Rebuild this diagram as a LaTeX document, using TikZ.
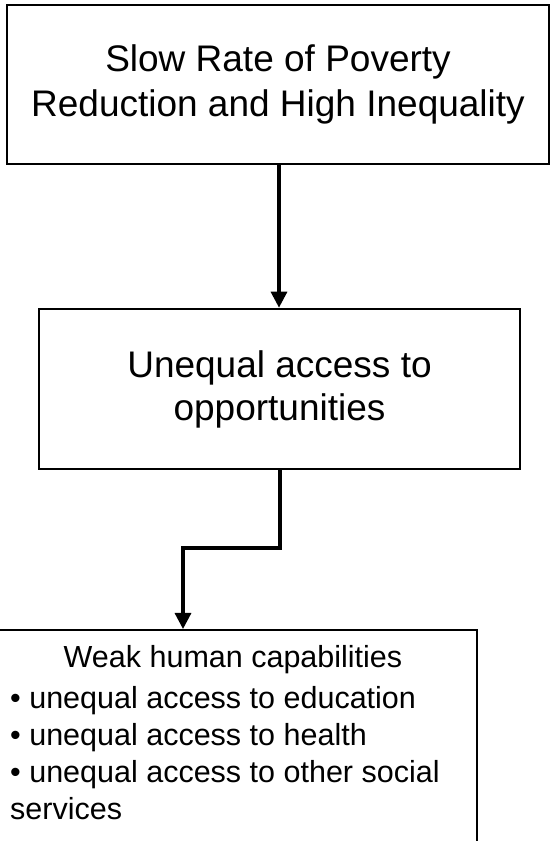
\documentclass[tikz,border=0pt]{standalone}
\usepackage{fontspec}
\setmainfont{Liberation Sans}
\usetikzlibrary{arrows.meta, positioning, calc}

\begin{document}
\begin{tikzpicture}[x=1pt, y=1pt,
		causebox/.style={shape=rectangle, draw=black, line width=2.6pt, align=center, inner sep=0pt},
		flow/.style={draw=black, line width=3.2pt, -{Triangle[width=16pt, length=16pt]}},
	]
	\useasboundingbox (0,0) rectangle (551,841);
	
	\node[causebox, minimum width=542pt, minimum height=159pt, font=\fontsize{37}{45}\selectfont] (slow) at (278,756.5) {Slow Rate of Poverty\\Reduction and High Inequality};
	\node[causebox, minimum width=481pt, minimum height=160pt, font=\fontsize{37}{43}\selectfont] (unequal) at (279.5,452) {Unequal access to\\opportunities};
	\node[causebox, line width=1.8pt, minimum width=488pt, minimum height=260pt, anchor=north] (weak) at (233,212) {};
	
	\node[font=\fontsize{30.5}{37}\selectfont, anchor=base, inner sep=0pt] (weaktitle) at (233,173) {Weak human capabilities};
	\node[font=\fontsize{30.5}{37}\selectfont, anchor=north west, align=left, inner sep=0pt] (weaklist) at (10,155) {\textbullet{} unequal access to education\\\textbullet{} unequal access to health\\\textbullet{} unequal access to other social\\services};
	
	\coordinate (step) at (183,293);
	
	\draw[flow] (slow.south -| 279,0) -- (279,0 |- unequal.north);
	\draw[flow] (unequal.south -| 280,0) |- (step) -- (step |- weak.north);
\end{tikzpicture}
\end{document}
